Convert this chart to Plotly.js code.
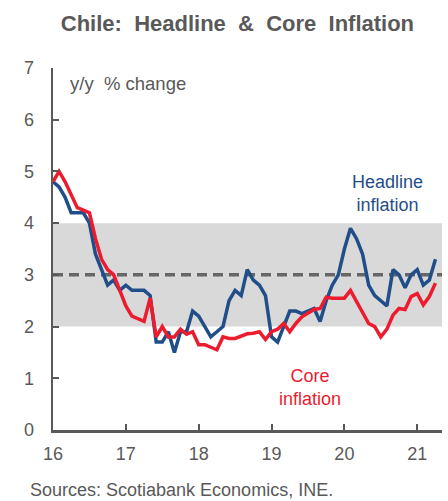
<!DOCTYPE html>
<html>
<head>
<meta charset="utf-8">
<script src="https://cdn.plot.ly/plotly-3.0.1.min.js"></script>
<style>
  html, body { margin: 0; padding: 0; background: #fff; }
  #chart { width: 448px; height: 501px; }
</style>
</head>
<body>
<div id="chart"></div>
<script>
// Monthly, Jan 2016 .. Apr 2021 (x expressed as year fraction: 16 = Jan 2016)
const startYear = 16;
const headline = [
  4.8, 4.7, 4.5, 4.2, 4.2, 4.2, 4.0, 3.4, 3.1, 2.8, 2.9, 2.7,
  2.8, 2.7, 2.7, 2.7, 2.6, 1.7, 1.7, 1.9, 1.5, 1.9, 1.9, 2.3,
  2.2, 2.0, 1.8, 1.9, 2.0, 2.5, 2.7, 2.6, 3.1, 2.9, 2.8, 2.6,
  1.8, 1.7, 2.0, 2.3, 2.3, 2.25, 2.3, 2.35, 2.1, 2.5, 2.8, 3.0,
  3.5, 3.9, 3.7, 3.4, 2.8, 2.6, 2.5, 2.4, 3.1, 3.0, 2.75, 3.0,
  3.1, 2.8, 2.9, 3.3
];
const core = [
  4.8, 5.0, 4.8, 4.55, 4.3, 4.25, 4.2, 3.7, 3.3, 3.1, 3.0, 2.7,
  2.4, 2.2, 2.15, 2.1, 2.55, 1.8, 2.0, 1.8, 1.8, 1.95, 1.85, 1.9,
  1.65, 1.65, 1.6, 1.55, 1.8, 1.77, 1.77, 1.82, 1.86, 1.87, 1.9, 1.75,
  1.9, 1.95, 2.06, 1.9, 2.06, 2.19, 2.26, 2.33, 2.35, 2.57, 2.55, 2.55,
  2.55, 2.7, 2.48, 2.25, 2.06, 2.0, 1.8, 1.95, 2.22, 2.35, 2.33, 2.58,
  2.64, 2.42, 2.58, 2.84
];
const months = headline.map((_, i) => startYear + i / 12);
const tickVals = [16, 17, 18, 19, 20, 21];
const tickText = ["16", "17", "18", "19", "20", "21"];
const targetLow = 2, targetMid = 3, targetHigh = 4;

const gray = "#595959";
const font = "Liberation Sans, Arial, sans-serif";

const traces = [
  {
    x: months, y: headline, type: "scatter", mode: "lines",
    line: { color: "#1F4E89", width: 3.5 }, hoverinfo: "skip"
  },
  {
    x: months, y: core, type: "scatter", mode: "lines",
    line: { color: "#EC1C2E", width: 3.5 }, hoverinfo: "skip"
  }
];

const xEnd = 21.34;

const layout = {
  width: 448, height: 501,
  margin: { l: 53, r: 6, t: 68, b: 71 },
  paper_bgcolor: "#fff", plot_bgcolor: "#fff",
  showlegend: false,
  font: { family: font, color: gray, size: 18 },
  title: {
    text: "<b>Chile:  Headline  &  Core  Inflation</b>",
    font: { family: font, size: 22, color: gray },
    x: 0.53, xanchor: "center", y: 0.953, yanchor: "middle"
  },
  xaxis: {
    range: [16, xEnd], tickvals: tickVals, ticktext: tickText,
    ticks: "inside", ticklen: 6, tickwidth: 2, tickcolor: gray,
    showline: true, linecolor: gray, linewidth: 2.5,
    showgrid: false, zeroline: false, fixedrange: true,
    ticklabelstandoff: 6,
    tickfont: { family: font, size: 18, color: gray }
  },
  yaxis: {
    range: [0, 7], dtick: 1,
    ticks: "inside", ticklen: 6, tickwidth: 2, tickcolor: gray,
    showline: true, linecolor: gray, linewidth: 2.5,
    showgrid: false, zeroline: false, fixedrange: true,
    ticklabelstandoff: 13,
    tickfont: { family: font, size: 18, color: gray }
  },
  shapes: [
    {
      type: "rect", xref: "paper", yref: "y", x0: 0, x1: 1,
      y0: targetLow, y1: targetHigh,
      fillcolor: "#D9D9D9", line: { width: 0 }, layer: "below"
    },
    {
      type: "line", xref: "paper", yref: "y", x0: 0, x1: 1,
      y0: targetMid, y1: targetMid,
      line: { color: "#666666", width: 3.5, dash: "10px,6px" }, layer: "below"
    }
  ],
  annotations: [
    {
      text: "y/y  % change", xref: "paper", yref: "paper",
      x: 0.038, y: 0.956, xanchor: "left", yanchor: "middle", showarrow: false,
      font: { family: font, size: 18.5, color: gray }
    },
    {
      text: "Headline<br>inflation", xref: "x", yref: "y",
      x: 20.59, y: 4.58, xanchor: "center", yanchor: "middle", showarrow: false,
      font: { family: font, size: 18, color: "#1F4E89" }
    },
    {
      text: "Core<br>inflation", xref: "x", yref: "y",
      x: 19.53, y: 0.83, xanchor: "center", yanchor: "middle", showarrow: false,
      font: { family: font, size: 18, color: "#EC1C2E" }
    },
    {
      text: "Sources: Scotiabank Economics, INE.", xref: "paper", yref: "paper",
      x: -0.065, y: -0.165, xanchor: "left", yanchor: "middle", showarrow: false,
      font: { family: font, size: 18, color: gray }
    }
  ]
};

Plotly.newPlot("chart", traces, layout, { displayModeBar: false, staticPlot: true });
</script>
</body>
</html>
